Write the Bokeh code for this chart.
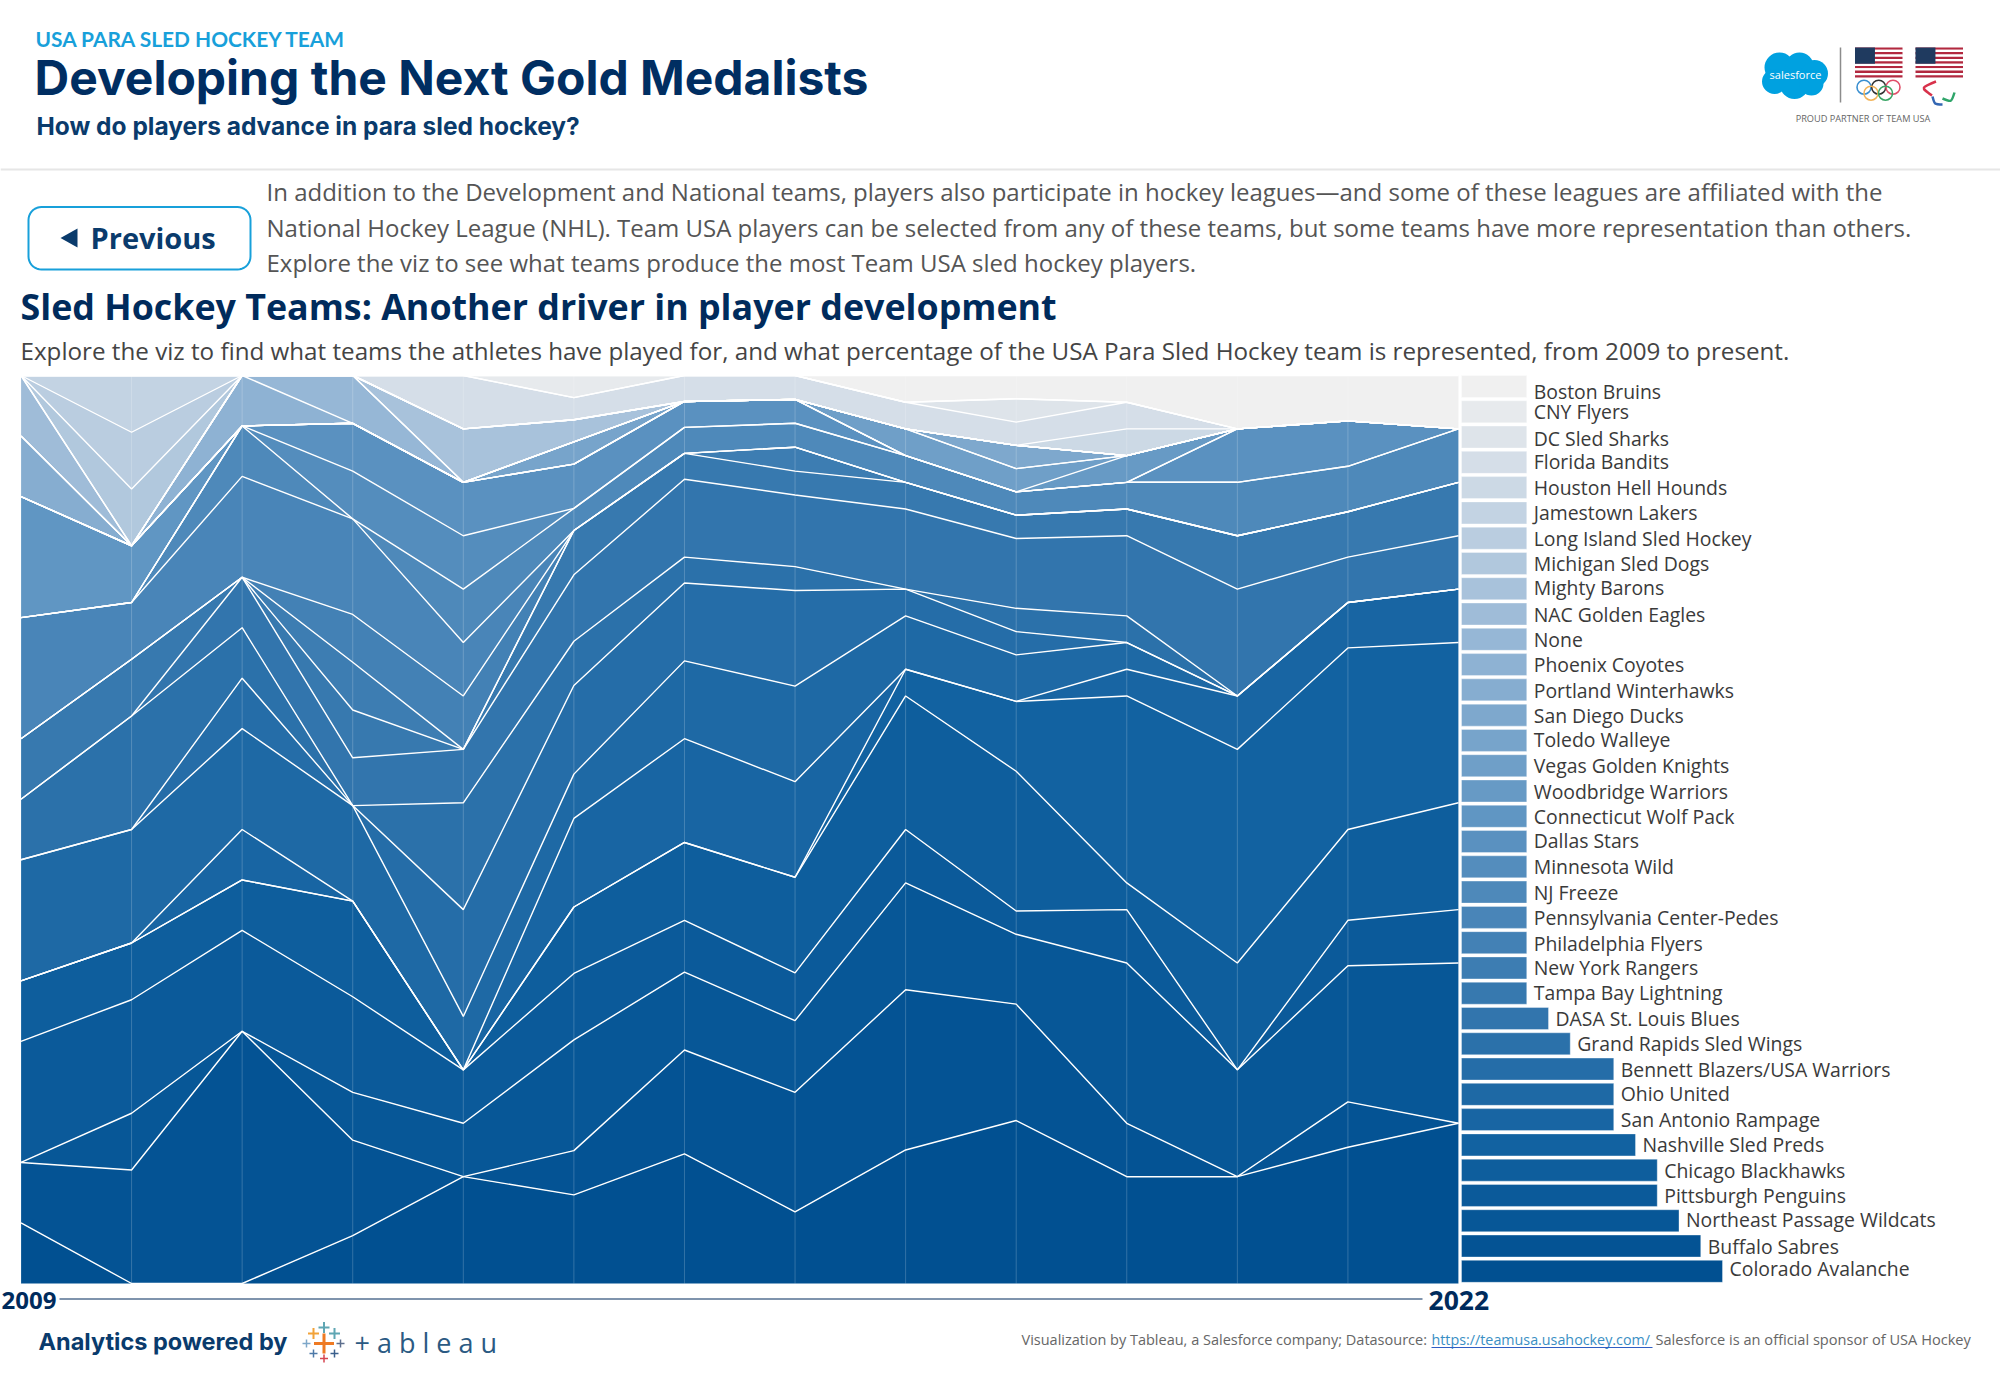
import numpy as np
from bokeh.core.properties import value
from bokeh.embed import file_html
from bokeh.models import ColumnDataSource, Range1d
from bokeh.plotting import figure
from bokeh.resources import INLINE

# ---------- data ----------
years = [2009, 2010, 2011, 2012, 2013, 2014, 2015, 2016, 2017, 2018, 2019, 2020, 2021, 2022]
roster_size = [15, 16, 18, 19, 17, 41, 35, 38, 34, 39, 34, 17, 20, 17]

colorado = [1, 0, 0, 1, 2, 4, 5, 3, 5, 7, 4, 2, 3, 3]
buffalo = [1, 2, 5, 2, 0, 2, 4, 5, 6, 5, 2, 0, 1, 0]
northeast = [0, 1, 0, 1, 1, 5, 3, 3, 4, 3, 6, 2, 3, 3]
pittsburgh = [2, 2, 2, 2, 1, 3, 2, 2, 2, 1, 2, 0, 1, 1]
chicago = [1, 1, 1, 2, 0, 3, 3, 4, 5, 6, 1, 2, 2, 2]
nashville = [0, 0, 0, 0, 0, 0, 0, 0, 1, 3, 7, 4, 4, 3]
san_antonio = [0, 0, 1, 0, 0, 4, 4, 4, 0, 0, 1, 1, 1, 1]
ohio = [2, 2, 2, 2, 1, 2, 3, 4, 2, 2, 1, 0, 0, 0]
bennett = [0, 0, 1, 0, 2, 4, 3, 4, 1, 1, 0, 0, 0, 0]
grand_rapids = [1, 2, 1, 0, 2, 2, 1, 1, 0, 1, 1, 0, 0, 0]
dasa = [0, 0, 1, 1, 1, 3, 3, 3, 3, 3, 3, 2, 1, 1]
tampa = [1, 1, 0, 1, 0, 2, 1, 1, 1, 1, 1, 1, 1, 1]
rangers = [0, 0, 0, 1, 0, 0, 0, 1, 0, 0, 0, 0, 0, 0]
flyers = [0, 0, 0, 1, 1, 0, 0, 0, 0, 0, 0, 0, 0, 0]
center_pedes = [2, 1, 2, 2, 1, 0, 0, 0, 0, 0, 0, 0, 0, 0]
nj_freeze = [0, 0, 1, 0, 1, 1, 1, 1, 1, 1, 1, 1, 1, 1]
minnesota = [0, 0, 0, 1, 1, 0, 0, 0, 0, 0, 0, 0, 0, 0]
dallas = [0, 0, 0, 1, 1, 2, 1, 1, 0, 0, 0, 1, 1, 0]
connecticut = [2, 1, 0, 0, 0, 0, 0, 0, 0, 0, 0, 0, 0, 0]
woodbridge = [0, 0, 0, 0, 0, 0, 0, 0, 0, 0, 1, 0, 0, 0]
vegas = [0, 0, 0, 0, 0, 0, 0, 0, 1, 1, 0, 0, 0, 0]
toledo = [0, 0, 0, 0, 0, 1, 0, 0, 0, 0, 0, 0, 0, 0]
san_diego = [0, 0, 0, 0, 0, 0, 0, 0, 0, 1, 0, 0, 0, 0]
portland = [1, 0, 0, 0, 0, 0, 0, 0, 0, 0, 0, 0, 0, 0]
phoenix = [0, 0, 1, 0, 0, 0, 0, 0, 0, 0, 0, 0, 0, 0]
none_team = [0, 0, 0, 1, 0, 0, 0, 0, 0, 0, 0, 0, 0, 0]
nac = [1, 0, 0, 0, 0, 0, 0, 0, 0, 0, 0, 0, 0, 0]
mighty = [0, 0, 0, 0, 1, 1, 0, 0, 0, 0, 0, 0, 0, 0]
michigan = [0, 1, 0, 0, 0, 0, 0, 0, 0, 0, 0, 0, 0, 0]
long_island = [0, 1, 0, 0, 0, 0, 0, 0, 0, 0, 0, 0, 0, 0]
jamestown = [0, 1, 0, 0, 0, 0, 0, 0, 0, 0, 0, 0, 0, 0]
houston = [0, 0, 0, 0, 0, 0, 0, 0, 0, 0, 1, 0, 0, 0]
florida = [0, 0, 0, 0, 1, 1, 1, 1, 1, 1, 1, 0, 0, 0]
dc = [0, 0, 0, 0, 0, 0, 0, 0, 0, 1, 0, 0, 0, 0]
cny = [0, 0, 0, 0, 0, 1, 0, 0, 0, 0, 0, 0, 0, 0]
boston = [0, 0, 0, 0, 0, 0, 0, 0, 1, 1, 1, 1, 1, 1]

# bottom of the stack first
stack = [colorado, buffalo, northeast, pittsburgh, chicago, nashville, san_antonio, ohio,
         bennett, grand_rapids, dasa, tampa, rangers, flyers, center_pedes, nj_freeze,
         minnesota, dallas, connecticut, woodbridge, vegas, toledo, san_diego, portland,
         phoenix, none_team, nac, mighty, michigan, long_island, jamestown, houston,
         florida, dc, cny, boston]

# legend, top row first
team_names = ["Boston Bruins", "CNY Flyers", "DC Sled Sharks", "Florida Bandits", "Houston Hell Hounds",
              "Jamestown Lakers", "Long Island Sled Hockey", "Michigan Sled Dogs", "Mighty Barons",
              "NAC Golden Eagles", "None", "Phoenix Coyotes", "Portland Winterhawks", "San Diego Ducks",
              "Toledo Walleye", "Vegas Golden Knights", "Woodbridge Warriors", "Connecticut Wolf Pack",
              "Dallas Stars", "Minnesota Wild", "NJ Freeze", "Pennsylvania Center-Pedes",
              "Philadelphia Flyers", "New York Rangers", "Tampa Bay Lightning", "DASA St. Louis Blues",
              "Grand Rapids Sled Wings", "Bennett Blazers/USA Warriors", "Ohio United", "San Antonio Rampage",
              "Nashville Sled Preds", "Chicago Blackhawks", "Pittsburgh Penguins", "Northeast Passage Wildcats",
              "Buffalo Sabres", "Colorado Avalanche"]
team_players = [3] * 25 + [4, 5, 7, 7, 7, 8, 9, 9, 10, 11, 12]
label_nudge = [5, 0, 1, -0.5, 0, 0, 0.5, 0, -1, 0, 0.5, 0, 1, 0, -1, 0, 1, 0.5, -1, 0, 0, 0.5, 1, 0, -0.5, 0, 0,
               0.5, -0.5, 0, 0, 0.5, 0, -1, 0, -3]

# ---------- colours ----------
stop_idx = [0, 5, 10, 18, 25, 35]
stop_rgb = np.array([(1, 80, 145), (18, 98, 161), (50, 117, 173), (96, 150, 195), (150, 183, 214), (240, 240, 240)])
channels = [np.interp(np.arange(36), stop_idx, stop_rgb[:, c]) for c in range(3)]
colors = ["#%02x%02x%02x" % (int(channels[0][i]), int(channels[1][i]), int(channels[2][i])) for i in range(36)]

# ---------- page frame: the default ranges are page pixels ----------
PX0, PX1, PY0, PY1 = 0, 2000, 0, 1378
AREA_L, AREA_R, AREA_T, AREA_B = 20.5, 1458.0, 375.0, 1283.0
p = figure(width=PX1 - PX0, height=PY1 - PY0, output_backend="svg", toolbar_location=None,
           x_range=Range1d(PX0, PX1), y_range=Range1d(PY1, PY0), x_axis_type=None, y_axis_type=None,
           min_border=0, outline_line_color=None, background_fill_color="white")
p.grid.visible = False

yr_px = (AREA_R - AREA_L) / (years[-1] - years[0])
sh_px = (AREA_B - AREA_T) / 100.0
p.extra_x_ranges["year"] = Range1d(years[0] - (AREA_L - PX0) / yr_px, years[0] + (PX1 - AREA_L) / yr_px)
p.extra_y_ranges["share"] = Range1d((AREA_B - PY1) / sh_px, (AREA_B - PY0) / sh_px)

UNIT = 21.75
BAR_L = 1461.0
ROW0, ROW_PX = 386.0, 25.28
p.extra_x_ranges["players"] = Range1d((PX0 - BAR_L) / UNIT, (PX1 - BAR_L) / UNIT)
p.extra_y_ranges["row"] = Range1d((PY1 - ROW0) / ROW_PX, (PY0 - ROW0) / ROW_PX)

# ---------- stacked area ----------
tops = []
base = np.zeros(len(years))
roster = np.array(roster_size, dtype=float)
for i, team in enumerate(stack):
    top = base + np.array(team, dtype=float) / roster * 100
    p.varea(x=years, y1=base, y2=top, fill_color=colors[i], x_range_name="year", y_range_name="share")
    tops.append(top)
    base = top
p.segment(x0=years, x1=years, y0=[0] * len(years), y1=[100] * len(years), line_color="white", line_alpha=0.2,
          line_width=1, x_range_name="year", y_range_name="share")
for top in tops:
    p.line(x=years, y=top, line_color="white", line_width=1.4, x_range_name="year", y_range_name="share")

# ---------- legend bars ----------
rows = list(range(len(team_names)))
src = ColumnDataSource(dict(row=rows, n=team_players, name=team_names, c=colors[::-1], dy=label_nudge))
p.hbar(y="row", left=0, right="n", height=0.87, fill_color="c", line_color="white", line_alpha=0.35, line_width=1,
       source=src, x_range_name="players", y_range_name="row")
p.text(x="n", y="row", text="name", source=src, x_offset=7, y_offset="dy", text_baseline="middle",
       text_font=value("Open Sans"), text_font_size="19.4px", text_color="#3a3a3a",
       x_range_name="players", y_range_name="row")


# ---------- page texts ----------
def label(x, y, s, size, color, font="Open Sans", style="normal", align="left"):
    p.text(x=[x], y=[y], text=[s], text_font=value(font), text_font_size=f"{size}px", text_color=color,
           text_font_style=style, text_align=align, text_baseline="middle")


NAVY = "#002b5c"
label(35, 38, "USA PARA SLED HOCKEY TEAM", 20.9, "#18a0da", font="Lato", style="bold")
label(34, 77, "Developing the Next Gold Medalists", 48, "#002e62", font="Inter", style="bold")
label(36, 125, "How do players advance in para sled hockey?", 24.5, "#0a3b6c", font="Inter", style="bold")
p.segment(x0=[PX0], x1=[PX1], y0=[169], y1=[169], line_color="#e6e6e6", line_width=2)

label(266, 191, "In addition to the Development and National teams, players also participate in hockey leagues\u2014and some of these leagues are affiliated with the", 24, "#555555")
label(266, 227, "National Hockey League (NHL). Team USA players can be selected from any of these teams, but some teams have more representation than others.", 24, "#555555")
label(266, 262, "Explore the viz to see what teams produce the most Team USA sled hockey players.", 24, "#555555")

label(20, 305, "Sled Hockey Teams: Another driver in player development", 35.8, NAVY, style="bold")
label(20, 350, "Explore the viz to find what teams the athletes have played for, and what percentage of the USA Para Sled Hockey team is represented, from 2009 to present.", 24.2, "#444444")

# Previous button
bx0, bx1, by0, by1, r = 28.0, 250.0, 206.5, 269.0, 13.0
ang = np.linspace(0, np.pi / 2, 10)
bxs = np.r_[bx1 - r + r * np.sin(ang), bx1 - r + r * np.cos(ang), bx0 + r - r * np.sin(ang), bx0 + r - r * np.cos(ang)]
bys = np.r_[by0 + r - r * np.cos(ang), by1 - r + r * np.sin(ang), by1 - r + r * np.cos(ang), by0 + r - r * np.sin(ang)]
p.patch(bxs, bys, fill_color="white", line_color="#18a0da", line_width=2)
p.patch([60, 77, 77], [237.5, 228, 247], fill_color="#0a3b6c", line_color=None)
label(90, 237, "Previous", 29, "#0a3b6c", style="bold")

# time axis
label(1, 1300, "2009", 24, NAVY, style="bold")
p.segment(x0=[59], x1=[1422], y0=[1298.5], y1=[1298.5], line_color=NAVY, line_width=1.2)
label(1428, 1300, "2022", 26.5, NAVY, style="bold")

# footer
label(38, 1341, "Analytics powered by", 23.5, "#0a3b6c", font="Inter", style="bold")
p.scatter(x=[323.5, 313, 323.5, 334, 306, 340, 313, 323.5, 334],
          y=[1343, 1333, 1327, 1333, 1343, 1343, 1353, 1358, 1353],
          size=[20, 11, 11, 11, 8, 8, 8, 8, 8], marker="cross", line_width=[3, 2, 2, 2, 1.5, 1.5, 1.5, 1.5, 1.5],
          line_color=["#ee7a23", "#f2a33a", "#5fa6b3", "#5fa6b3", "#7da7c9", "#5d6f8e", "#4d79a8", "#d64550", "#3a5f8c"],
          fill_color=None)
label(354, 1342, "+ a b l e a u", 27, "#2b5a83")

label(1021, 1338.5, "Visualization by Tableau, a Salesforce company; Datasource:", 14.5, "#666666")
label(1431, 1338.5, "https://teamusa.usahockey.com/", 14.3, "#3a8fc4")
p.segment(x0=[1431], x1=[1652], y0=[1347], y1=[1347], line_color="#2f5fc4", line_width=1)
label(1655, 1338.5, "Salesforce is an official sponsor of USA Hockey", 14.6, "#666666")

# partner logo
p.scatter(x=[1779, 1799, 1814, 1774, 1794, 1811], y=[67, 66, 73, 81, 84, 83], size=[30, 28, 27, 25, 29, 24],
          marker="circle", fill_color="#00a1e0", line_color=None)
label(1795, 74, "salesforce", 11, "white", align="center")
p.segment(x0=[1840], x1=[1840], y0=[47], y1=[102], line_color="#8c8c8c", line_width=1.5)
for fx0 in (1854.5, 1915.0):
    fw, fh = 47.5, 30.0
    stripes = np.arange(13)
    p.quad(left=fx0, right=fx0 + fw, top=47 + stripes * fh / 13, bottom=47 + (stripes + 1) * fh / 13,
           fill_color=["#b2283f" if s % 2 == 0 else "white" for s in stripes], line_color=None)
    p.quad(left=[fx0], right=[fx0 + fw * 0.42], top=[47], bottom=[47 + fh * 7 / 13], fill_color="#1f3a5f", line_color=None)
p.scatter(x=[1863.5, 1878.2, 1892.5, 1870.5, 1885], y=[86.7, 86.7, 86.7, 92.7, 92.7], size=14, marker="circle",
          fill_color=None, line_width=1.6, line_color=["#3a8fd0", "#333333", "#e0506a", "#f2b45a", "#3aa565"])
p.bezier(x0=[1935.5, 1932, 1942], y0=[81, 96, 98], x1=[1931.5, 1942, 1954], y1=[95, 104, 92],
         cx0=[1920, 1934, 1951], cy0=[87, 104, 102], cx1=[1920, 1934, 1951], cy1=[87, 104, 102],
         line_color=["#d8324b", "#3366b3", "#2fa56a"], line_width=2.5)
label(1862.5, 118, "PROUD PARTNER OF TEAM USA", 9.2, "#666666", align="center")

open("out.html", "w").write(file_html(p, INLINE))
